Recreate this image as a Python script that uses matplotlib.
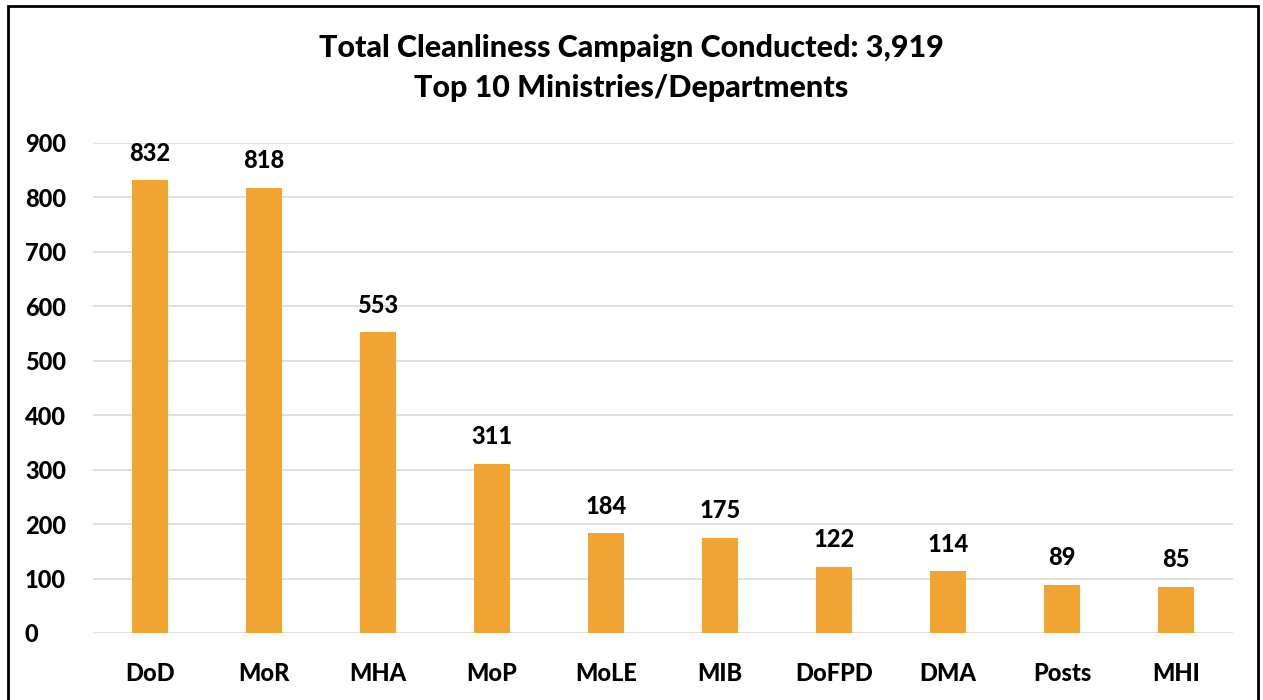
import matplotlib
matplotlib.use("Agg")
import matplotlib.pyplot as plt
from matplotlib.patches import Rectangle

categories = ["DoD", "MoR", "MHA", "MoP", "MoLE", "MIB", "DoFPD", "DMA", "Posts", "MHI"]
values = [832, 818, 553, 311, 184, 175, 122, 114, 89, 85]
title = "Total Cleanliness Campaign Conducted: 3,919\nTop 10 Ministries/Departments"

plt.rcParams['font.family'] = ['Lato', 'DejaVu Sans']
W = "black"

fig = plt.figure(figsize=(12.63, 7.0), dpi=100)
ax = fig.add_axes([93/1263, 1-633/700, (1233-93)/1263, 490/700])

x = list(range(len(categories)))
ax.bar(x, values, width=0.31, color="#F0A431", zorder=3)
for xi, v in zip(x, values):
    ax.text(xi, v + 28, f"{v}", ha="center", va="bottom", fontsize=17, fontweight=W, color="black")

ax.set_xlim(-0.5, len(categories) - 0.5)
ax.set_ylim(0, 900)
ax.set_yticks(range(0, 901, 100))
ax.set_xticks(x)
ax.set_xticklabels(categories)
ax.grid(axis="y", color="#D9D9D9", linewidth=1.2, zorder=0)
for s in ax.spines.values():
    s.set_visible(False)
ax.tick_params(axis="both", length=0, labelsize=17)
ax.tick_params(axis="x", pad=21)
ax.tick_params(axis="y", pad=49)
for lab in ax.get_xticklabels() + ax.get_yticklabels():
    lab.set_fontweight(W)
for lab in ax.get_yticklabels():
    lab.set_horizontalalignment("left")

fig.text(0.5, 1 - 68/700, title, ha="center", va="center", fontsize=22, fontweight=W, linespacing=1.5)

fig.patches.append(Rectangle((8/1263, -0.01), (1258-8)/1263, (1 - 6/700) + 0.01,
                             transform=fig.transFigure, fill=False, edgecolor="black", linewidth=2))

fig.savefig("out.png", dpi=100)
